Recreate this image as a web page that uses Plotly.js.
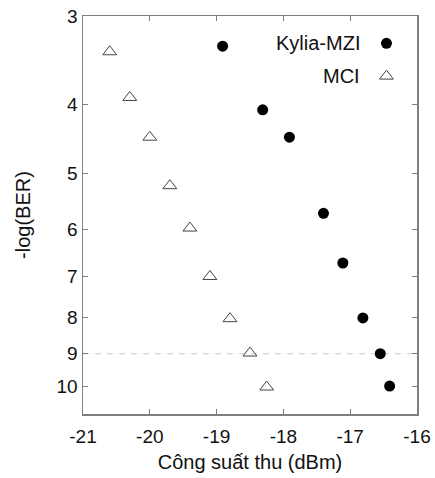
<!DOCTYPE html>
<html>
<head>
<meta charset="utf-8">
<script src="https://cdn.plot.ly/plotly-3.0.1.min.js"></script>
<style>html,body{margin:0;padding:0;background:#fff;}#chart{width:435px;height:478px;}</style>
</head>
<body>
<div id="chart"></div>
<script>
// Data
const kyliaPower = [-18.91, -18.31, -17.91, -17.40, -17.11, -16.81, -16.55, -16.41];
const kyliaLogBER = [3.31, 4.07, 4.45, 5.70, 6.70, 8.01, 9.0, 10.0];
const mciPower = [-20.60, -20.30, -20.00, -19.70, -19.40, -19.10, -18.80, -18.50, -18.25];
const mciLogBER = [3.37, 3.91, 4.45, 5.21, 5.98, 7.0, 8.03, 8.98, 10.03];
const xTickVals = [-21, -20, -19, -18, -17, -16];
const yTickVals = [3, 4, 5, 6, 7, 8, 9, 10];
const berLimit = 9;
const xRange = [-21, -16];
const yRange = [3, 10.95];
const seriesNames = ['Kylia-MZI', 'MCI'];

const font = {family: 'Liberation Sans, Arial, sans-serif', color: '#111'};
const axisColor = '#7f7f7f';

const traces = [
  {
    x: xRange, y: [berLimit, berLimit], mode: 'lines', showlegend: false, hoverinfo: 'skip',
    line: {color: '#cfcfcf', width: 1, dash: '6px,6px'}
  },
  {
    x: kyliaPower, y: kyliaLogBER, mode: 'markers', name: seriesNames[0], showlegend: false,
    marker: {symbol: 'circle', size: 11, color: '#000'}
  },
  {
    x: mciPower, y: mciLogBER, mode: 'markers', name: seriesNames[1], showlegend: false,
    marker: {symbol: 'triangle-up-open', size: 12, color: '#444', line: {width: 1, color: '#444'}}
  },
  // legend symbols on a hidden overlay axis
  {
    x: [0.9086], y: [0.9314], xaxis: 'x2', yaxis: 'y2', mode: 'markers', showlegend: false, hoverinfo: 'skip',
    marker: {symbol: 'circle', size: 11, color: '#000'}
  },
  {
    x: [0.9086], y: [0.849], xaxis: 'x2', yaxis: 'y2', mode: 'markers', showlegend: false, hoverinfo: 'skip',
    marker: {symbol: 'triangle-up-open', size: 12, color: '#444', line: {width: 1, color: '#444'}}
  }
];

const layout = {
  width: 435, height: 478,
  margin: {l: 83, r: 18, t: 16, b: 64, pad: 0},
  paper_bgcolor: '#fff', plot_bgcolor: '#fff',
  font: Object.assign({size: 19}, font),
  showlegend: false,
  xaxis: {
    range: xRange, tickvals: xTickVals, ticktext: xTickVals.map(String),
    showgrid: false, zeroline: false, showline: true, linecolor: axisColor, linewidth: 1.5,
    mirror: 'ticks', ticks: 'inside', ticklen: 5, tickcolor: axisColor, tickwidth: 1,
    ticklabelstandoff: 5,
    tickfont: Object.assign({size: 19}, font),
    title: {text: 'Công suất thu (dBm)', font: Object.assign({size: 20}, font), standoff: 8}
  },
  yaxis: {
    type: 'log', range: [Math.log10(yRange[1]), Math.log10(yRange[0])],
    tickvals: yTickVals, ticktext: yTickVals.map(String),
    showgrid: false, zeroline: false, showline: true, linecolor: axisColor, linewidth: 1.5,
    mirror: 'ticks', ticks: 'inside', ticklen: 5, tickcolor: axisColor, tickwidth: 1,
    tickfont: Object.assign({size: 19}, font),
    title: {text: '-log(BER)', font: Object.assign({size: 20}, font), standoff: 20}
  },
  xaxis2: {overlaying: 'x', range: [0, 1], visible: false, fixedrange: true},
  yaxis2: {overlaying: 'y', range: [0, 1], visible: false, fixedrange: true},
  annotations: [
    {xref: 'paper', yref: 'paper', x: 0.8356, y: 0.9314, xanchor: 'right', yanchor: 'middle',
     text: seriesNames[0], showarrow: false, font: Object.assign({size: 20}, font)},
    {xref: 'paper', yref: 'paper', x: 0.8356, y: 0.849, xanchor: 'right', yanchor: 'middle',
     text: seriesNames[1], showarrow: false, font: Object.assign({size: 20}, font)}
  ]
};

Plotly.newPlot('chart', traces, layout, {staticPlot: true, displayModeBar: false});
</script>
</body>
</html>
